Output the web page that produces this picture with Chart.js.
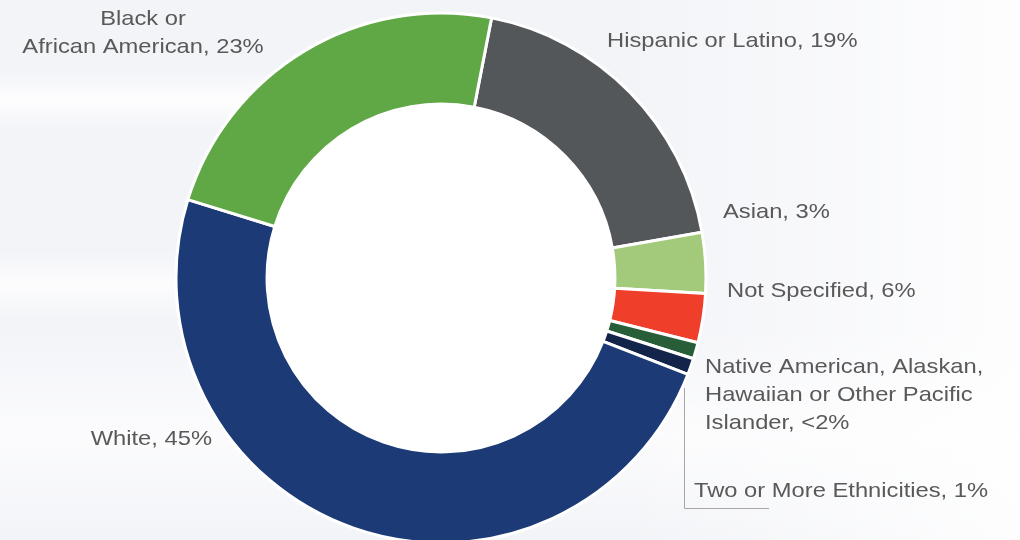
<!DOCTYPE html>
<html>
<head>
<meta charset="utf-8">
<script src="https://cdn.jsdelivr.net/npm/chart.js@4/dist/chart.umd.min.js"></script>
<style>
  html, body { margin: 0; padding: 0; background: #ffffff; }
  #wrap { width: 1020px; height: 540px; }
</style>
</head>
<body>
<div id="wrap"><canvas id="donut" width="1020" height="540"></canvas></div>
<script>
// slices, clockwise starting just right of 12 o'clock
var categories = ['Hispanic or Latino', 'Asian', 'Not Specified',
  'Native American, Alaskan, Hawaiian or Other Pacific Islander',
  'Two or More Ethnicities', 'White', 'Black or African American'];
var shares = [19.2, 3.7, 3.0, 1.0, 1.0, 48.9, 23.3];
var shownPct = ['19%', '3%', '6%', '<2%', '1%', '45%', '23%'];
var colors = ['#54575a', '#a3c97b', '#ef3e2a', '#275e38', '#13244b', '#1c3a76', '#5fa845'];

// where each label text goes (line breaks as in the original)
var labelSpots = [
  { lines: ['Hispanic or Latino, 19%'], x: 607, y: 47, align: 'left' },
  { lines: ['Asian, 3%'], x: 723, y: 218, align: 'left' },
  { lines: ['Not Specified, 6%'], x: 727, y: 297, align: 'left' },
  { lines: ['Native American, Alaskan,', 'Hawaiian or Other Pacific', 'Islander, <2%'], x: 705, y: 373, align: 'left' },
  { lines: ['Two or More Ethnicities, 1%'], x: 694, y: 497, align: 'left' },
  { lines: ['White, 45%'], x: 212, y: 445, align: 'right' },
  { lines: ['Black or', 'African American, 23%'], x: 143, y: 25, align: 'center' }
];

var backdrop = {
  id: 'backdrop',
  beforeDraw: function(chart) {
    var c = chart.ctx;
    c.save();
    c.fillStyle = '#f3f4f8';
    c.fillRect(0, 0, chart.width, chart.height);
    // soft white streaks
    function band(y0, y1, x0, x1, a) {
      var g = c.createLinearGradient(0, y0, 0, y1);
      g.addColorStop(0, 'rgba(255,255,255,0)');
      g.addColorStop(0.5, 'rgba(255,255,255,' + a + ')');
      g.addColorStop(1, 'rgba(255,255,255,0)');
      c.fillStyle = g;
      c.fillRect(x0, y0, x1 - x0, y1 - y0);
    }
    band(70, 130, 0, 420, 0.9);
    band(250, 320, 0, 300, 0.8);
    band(330, 540, 0, 1020, 0.7);
    var g2 = c.createLinearGradient(620, 0, 1020, 0);
    g2.addColorStop(0, 'rgba(255,255,255,0)');
    g2.addColorStop(1, 'rgba(255,255,255,0.85)');
    c.fillStyle = g2;
    c.fillRect(620, 0, 400, 540);
    // hole of the ring
    var arc = chart.getDatasetMeta(0).data[0];
    if (arc) {
      c.fillStyle = '#ffffff';
      c.beginPath();
      c.arc(arc.x, arc.y, arc.innerRadius, 0, Math.PI * 2);
      c.fill();
    }
    c.restore();
  }
};

var labelText = {
  id: 'labelText',
  afterDraw: function(chart) {
    var c = chart.ctx;
    c.save();
    c.fillStyle = '#595959';
    c.font = '21px "Liberation Sans", Arial, sans-serif';
    c.textBaseline = 'alphabetic';
    labelSpots.forEach(function(s) {
      s.lines.forEach(function(line, k) {
        c.save();
        c.translate(s.x, s.y + k * 28);
        c.scale(1.13, 1);
        c.textAlign = s.align;
        c.fillText(line, 0, 0);
        c.restore();
      });
    });
    // leader line for the smallest slice
    c.strokeStyle = '#a6a6a6';
    c.lineWidth = 1;
    c.beginPath();
    c.moveTo(684.5, 388);
    c.lineTo(684.5, 508.5);
    c.lineTo(769, 508.5);
    c.stroke();
    c.restore();
  }
};

new Chart(document.getElementById('donut').getContext('2d'), {
  type: 'doughnut',
  data: {
    labels: categories,
    datasets: [{
      data: shares,
      backgroundColor: colors,
      borderColor: '#ffffff',
      borderWidth: 3,
      hoverOffset: 0
    }]
  },
  options: {
    responsive: false,
    animation: false,
    rotation: 11,
    radius: 265,
    cutout: 171,
    layout: { padding: { left: 0, right: 138, top: 16, bottom: 0 } },
    plugins: {
      legend: { display: false },
      tooltip: { enabled: false }
    }
  },
  plugins: [backdrop, labelText]
});
</script>
</body>
</html>
